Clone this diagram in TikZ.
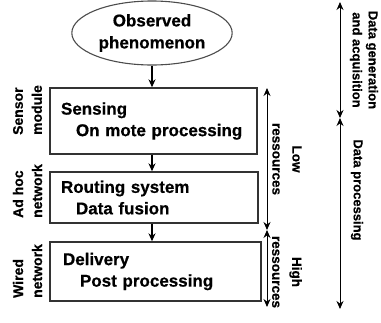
\documentclass[tikz,border=0pt]{standalone}
\usepackage{fontspec}
\setmainfont{Liberation Sans}[BoldFeatures={FakeBold=0.6}]
\usetikzlibrary{shapes.geometric,arrows.meta}

\begin{document}
\begin{tikzpicture}[x=1pt, y=-1pt]

  \tikzset{
    stagebox/.style = {
      draw = black!80,
      line width = 1.4pt,
      rectangle,
      align = left,
      inner xsep = 11pt,
      font = \fontsize{17}{21.5}\selectfont\bfseries},
    sidelabel/.style = {
      align = left,
      inner sep = 0pt,
      font = \fontsize{14}{19}\selectfont\bfseries},
    reslabel/.style = {
      align = center,
      inner sep = 0pt,
      font = \fontsize{13.5}{20}\selectfont\bfseries},
    flow/.style = {
      -{Stealth[length=8pt, width=7pt]},
      line width = 1.2pt},
    span/.style = {
      {Stealth[length=8pt, width=7pt]}-{Stealth[length=8pt, width=7pt]},
      line width = 1pt}}

  \useasboundingbox (0,0) rectangle (381,322);

  % observed phenomenon
  \node[ellipse, draw = black!70, line width = 1.1pt,
        minimum width = 151pt, minimum height = 64pt, align = center,
        font = \fontsize{17}{22}\selectfont\bfseries] (obs) at (152,33)
        {Observed\\phenomenon};

  % processing stages
  \node[stagebox, minimum width = 207pt, minimum height = 66pt,
        text width = 185pt] (sens) at (153.5,121)
        {Sensing\\\hspace*{15pt}On mote processing};
  \node[stagebox, minimum width = 208pt, minimum height = 51pt,
        text width = 186pt] (rout) at (154,197.5)
        {Routing system\\\hspace*{15pt}Data fusion};
  \node[stagebox, minimum width = 207pt, minimum height = 59pt,
        text width = 185pt, inner xsep = 13pt] (deliv) at (155.5,271.5)
        {Delivery\\\hspace*{17pt}Post processing};

  \draw[flow] (obs.south) -- (obs.south |- sens.north);
  \draw[flow] (obs.south |- sens.south) -- (obs.south |- rout.north);
  \draw[flow] (obs.south |- rout.south) -- (obs.south |- deliv.north);

  % where it runs
  \node[sidelabel, rotate=90] (sensmod) at (27.5,110) {Sensor\\module};
  \node[sidelabel, rotate=90] (adhoc) at (27.5,191) {Ad hoc\\network};
  \node[sidelabel, rotate=90] (wired) at (27.5,271) {Wired\\network};

  % ressources
  \coordinate (lowtop) at (267,88);
  \coordinate (lowbot) at (267,230);
  \coordinate (highbot) at (267,307);
  \draw[span] (lowtop) -- (lowbot);
  \draw[span] (lowbot) -- (highbot);
  \node[reslabel, rotate=-90] (low) at (287,159) {Low\\ressources};
  \node[reslabel, rotate=-90] (high) at (287,272) {High\\ressources};

  % data phases
  \coordinate (gentop) at (340,2);
  \coordinate (genbot) at (340,118);
  \coordinate (procbot) at (340,309);
  \draw[span] (gentop) -- (genbot);
  \draw[span] (genbot) -- (procbot);
  \node[sidelabel, rotate=-90, align=center,
        font = \fontsize{13}{16}\selectfont\bfseries] (gen) at (364,60)
        {Data generation\\and acquisition};
  \node[sidelabel, rotate=-90,
        font = \fontsize{13}{16}\selectfont\bfseries] (proc) at (357,190)
        {Data processing};
\end{tikzpicture}
\end{document}
